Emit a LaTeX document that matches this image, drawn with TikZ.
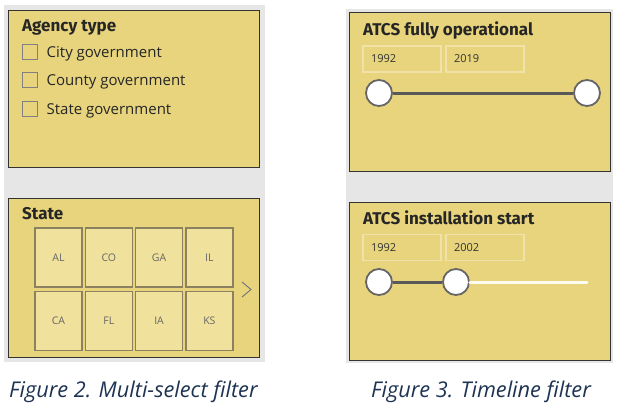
\documentclass[tikz,border=0pt]{standalone}
\usepackage{fontspec}
\setmainfont{Open Sans}
\newfontfamily\titlefont{Fira Sans}
\usetikzlibrary{positioning}
\definecolor{panelyellow}{HTML}{E7D47C}
\definecolor{tileyellow}{HTML}{F0E19C}
\definecolor{tileedge}{HTML}{8B8060}
\definecolor{boxedge}{HTML}{F0E2A8}
\definecolor{pagegray}{HTML}{E6E6E6}
\definecolor{capblue}{HTML}{1D3352}
\tikzset{track/.style={draw=black!65, line width=3pt}}

\begin{document}
\begin{tikzpicture}[x=1pt, y=-1pt,
  panel/.style = {draw=black!80, line width=1pt, fill=panelyellow},
  heading/.style = {anchor=base west, inner sep=0, font=\titlefont\bfseries\fontsize{17}{20}\selectfont, text=black!85},
  checkbox/.style = {draw=black!50, line width=1pt, minimum size=15pt, inner sep=0},
  item/.style = {inner sep=0, yshift=-1.5pt, font=\fontsize{15}{18}\selectfont, text=black!85},
  tile/.style = {draw=tileedge, line width=1.2pt, fill=tileyellow, minimum width=47pt, minimum height=59pt, font=\fontsize{10.5}{12}\selectfont, text=black!60},
  yearbox/.style = {draw=boxedge, line width=1.2pt, minimum width=78pt, minimum height=26pt, text width=62pt, inner xsep=8pt, align=left, font=\fontsize{11}{13}\selectfont, text=black!80},
  knob/.style = {circle, draw=black!60, line width=1.8pt, fill=white, minimum size=26pt, inner sep=0},
  caption/.style = {anchor=base west, inner sep=0, font=\itshape\fontsize{21.7}{25}\selectfont, text=capblue}]
\useasboundingbox (0,0) rectangle (627,407);
\fill[pagegray] (4,5) rectangle (265,362);
\fill[pagegray] (346,9) rectangle (613,363);

% Agency type
\draw[panel] (8,10) rectangle (259,167);
\node[heading] (agency) at (22,31) {Agency type};
\node[checkbox] (cb1) at (30,52) {};
\node[checkbox] (cb2) at (30,80) {};
\node[checkbox] (cb3) at (30,109) {};
\node[item, right=8.5pt of cb1] (city) {City government};
\node[item, right=8.5pt of cb2] (county) {County government};
\node[item, right=8.5pt of cb3] (statego) {State government};

% State tiles
\draw[panel] (8,198) rectangle (259,357);
\node[heading] (state) at (22,219) {State};
\foreach \lab [count=\i] in {AL,CO,GA,IL}
  \node[tile] (top\i) at ({58.5+50.3*(\i-1)},257.5) {\lab};
\foreach \lab [count=\i] in {CA,FL,IA,KS}
  \node[tile] (bot\i) at ({58.5+50.3*(\i-1)},321) {\lab};
\draw[black!55, line width=0.9pt] (242,282) -- (251,289.5) -- (242,297);

% ATCS fully operational
\draw[panel] (349,12) rectangle (610,171);
\node[heading] (fully) at (363,35) {ATCS fully operational};
\node[yearbox] (from1) at (402,59) {1992};
\node[yearbox] (to1) at (485,59) {2019};
\node[knob] (lo1) at (379,93) {};
\node[knob] (hi1) at (587,93) {};
\draw[track] (lo1) -- (hi1);

% ATCS installation start
\draw[panel] (349,202) rectangle (610,360);
\node[heading] (install) at (363,224) {ATCS installation start};
\node[yearbox] (from2) at (402,247.5) {1992};
\node[yearbox] (to2) at (485,247.5) {2002};
\coordinate (end2) at (587,282);
\node[knob] (lo2) at (379,282) {};
\node[knob] (hi2) at (456,282) {};
\draw[track] (lo2) -- (hi2);
\draw[draw=white!90!panelyellow, line width=3pt, line cap=round] (hi2) -- (end2);

% captions
\node[caption] (fig2) at (9,397) {Figure 2. Multi-select filter};
\node[caption] (fig3) at (371,397) {Figure 3. Timeline filter};
\end{tikzpicture}
\end{document}
